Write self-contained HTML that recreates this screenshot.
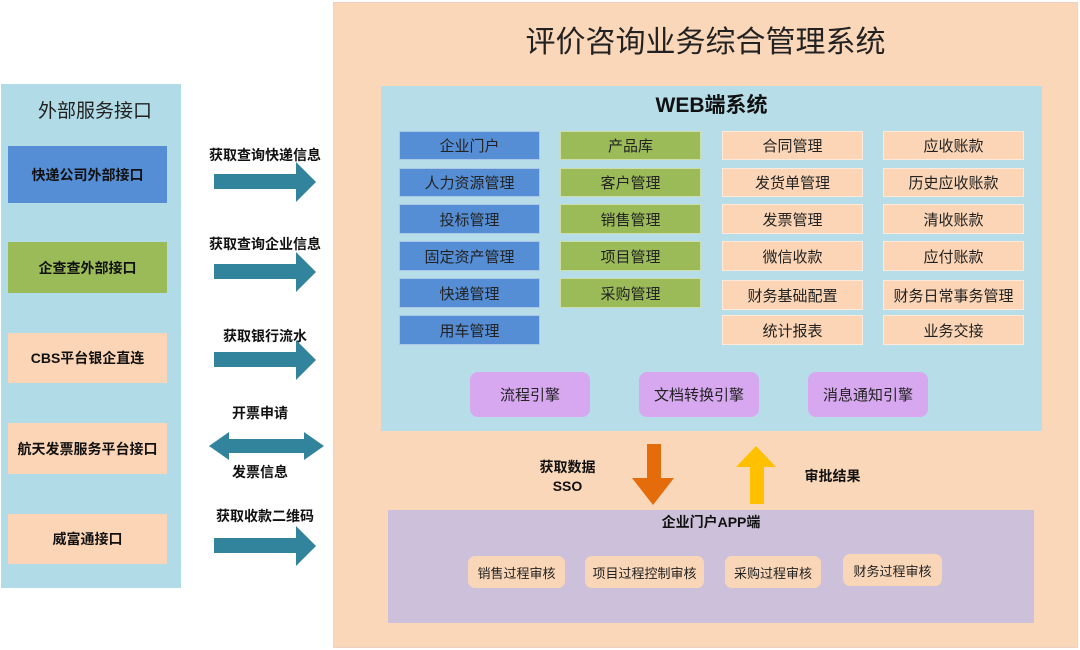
<!DOCTYPE html>
<html><head><meta charset="utf-8"><style>
*{margin:0;padding:0;box-sizing:border-box}
body{width:1080px;height:650px;background:#fff;position:relative;overflow:hidden;font-family:"Liberation Sans","Noto Sans CJK SC",sans-serif}
div{position:absolute}
.c{display:flex;align-items:center;justify-content:center;text-align:center;white-space:nowrap}
.lb{font-weight:bold;font-size:14px;color:#111}
.m{font-size:15px;color:#222;border:1px solid rgba(255,255,255,.5)}
.b{background:#558ed5}.g{background:#9bbb59}.p{background:#fbd5b5}
.e{background:#d7a8f0;border-radius:8px;font-size:15px;color:#222}
.a{background:#f9d6b8;border-radius:7px;font-size:13px;color:#222}
.t{font-weight:bold;font-size:14px;color:#111}
</style></head><body>
<div style="left:1px;top:84px;width:180px;height:504px;background:#b1dbe6"></div>
<div class="c" style="left:20px;top:96px;width:150px;height:26px;font-size:19px;color:#222">外部服务接口</div>
<div class="c lb" style="left:8px;top:146px;width:159px;height:57px;background:#558ed5">快递公司外部接口</div>
<div class="c lb" style="left:8px;top:242px;width:159px;height:51px;background:#9bbb59">企查查外部接口</div>
<div class="c lb" style="left:8px;top:333px;width:159px;height:50px;background:#fbd5b5">CBS平台银企直连</div>
<div class="c lb" style="left:8px;top:423px;width:159px;height:51px;background:#fbd5b5">航天发票服务平台接口</div>
<div class="c lb" style="left:8px;top:514px;width:159px;height:50px;background:#fbd5b5">威富通接口</div>
<svg style="position:absolute;left:0;top:0" width="340" height="650">
<g fill="#31849b">
<polygon points="214,174 296,174 296,162 316,182 296,202 296,189 214,189"/>
<polygon points="214,264 296,264 296,252 316,272 296,292 296,279 214,279"/>
<polygon points="214,352 296,352 296,340 316,360 296,380 296,367 214,367"/>
<polygon points="209,446 229,432 229,439 304,439 304,432 324,446 304,460 304,453 229,453 229,460"/>
<polygon points="214,538 296,538 296,526 316,546 296,566 296,553 214,553"/>
</g></svg>
<div class="c t" style="left:200px;top:145px;width:130px;height:20px">获取查询快递信息</div>
<div class="c t" style="left:200px;top:234px;width:130px;height:20px">获取查询企业信息</div>
<div class="c t" style="left:200px;top:326px;width:130px;height:20px">获取银行流水</div>
<div class="c t" style="left:200px;top:403px;width:120px;height:20px">开票申请</div>
<div class="c t" style="left:200px;top:462px;width:120px;height:20px">发票信息</div>
<div class="c t" style="left:200px;top:506px;width:130px;height:20px">获取收款二维码</div>

<div style="left:333px;top:2px;width:745px;height:646px;background:#fbd7b9;border:1px solid #f0d0c0"></div>
<div class="c" style="left:333px;top:18px;width:745px;height:42px;font-size:30px;color:#222">评价咨询业务综合管理系统</div>
<div style="left:381px;top:86px;width:661px;height:345px;background:#b7dde8"></div>
<div class="c" style="left:381px;top:90px;width:661px;height:28px;font-size:21px;font-weight:bold;color:#111">WEB端系统</div>

<div class="c m b" style="left:399px;top:131px;width:141px;height:29px">企业门户</div>
<div class="c m b" style="left:399px;top:168px;width:141px;height:29px">人力资源管理</div>
<div class="c m b" style="left:399px;top:204px;width:141px;height:30px">投标管理</div>
<div class="c m b" style="left:399px;top:241px;width:141px;height:30px">固定资产管理</div>
<div class="c m b" style="left:399px;top:278px;width:141px;height:30px">快递管理</div>
<div class="c m b" style="left:399px;top:315px;width:141px;height:30px">用车管理</div>

<div class="c m g" style="left:560px;top:131px;width:141px;height:29px">产品库</div>
<div class="c m g" style="left:560px;top:168px;width:141px;height:29px">客户管理</div>
<div class="c m g" style="left:560px;top:204px;width:141px;height:30px">销售管理</div>
<div class="c m g" style="left:560px;top:241px;width:141px;height:30px">项目管理</div>
<div class="c m g" style="left:560px;top:278px;width:141px;height:30px">采购管理</div>

<div class="c m p" style="left:722px;top:131px;width:141px;height:29px">合同管理</div>
<div class="c m p" style="left:722px;top:168px;width:141px;height:29px">发货单管理</div>
<div class="c m p" style="left:722px;top:204px;width:141px;height:30px">发票管理</div>
<div class="c m p" style="left:722px;top:241px;width:141px;height:30px">微信收款</div>
<div class="c m p" style="left:722px;top:280px;width:141px;height:30px">财务基础配置</div>
<div class="c m p" style="left:722px;top:315px;width:141px;height:30px">统计报表</div>

<div class="c m p" style="left:883px;top:131px;width:141px;height:29px">应收账款</div>
<div class="c m p" style="left:883px;top:168px;width:141px;height:29px">历史应收账款</div>
<div class="c m p" style="left:883px;top:204px;width:141px;height:30px">清收账款</div>
<div class="c m p" style="left:883px;top:241px;width:141px;height:30px">应付账款</div>
<div class="c m p" style="left:883px;top:280px;width:141px;height:30px">财务日常事务管理</div>
<div class="c m p" style="left:883px;top:315px;width:141px;height:30px">业务交接</div>

<div class="c e" style="left:470px;top:372px;width:120px;height:45px">流程引擎</div>
<div class="c e" style="left:639px;top:372px;width:120px;height:45px">文档转换引擎</div>
<div class="c e" style="left:808px;top:372px;width:120px;height:45px">消息通知引擎</div>

<svg style="position:absolute;left:600px;top:430px" width="200" height="90">
<polygon fill="#e46c0a" points="47,14 61,14 61,48 74,48 53,75 32,48 47,48"/>
<polygon fill="#ffc000" points="150,74 164,74 164,37 176,37 156,16 136,37 150,37"/>
</svg>
<div class="c t" style="left:530px;top:458px;width:75px;height:18px">获取数据</div>
<div class="c t" style="left:530px;top:477px;width:75px;height:18px">SSO</div>
<div class="c t" style="left:795px;top:466px;width:75px;height:20px">审批结果</div>

<div style="left:388px;top:510px;width:646px;height:113px;background:#ccc0da"></div>
<div class="c t" style="left:388px;top:512px;width:646px;height:20px">企业门户APP端</div>
<div class="c a" style="left:468px;top:556px;width:97px;height:32px">销售过程审核</div>
<div class="c a" style="left:585px;top:556px;width:119px;height:32px">项目过程控制审核</div>
<div class="c a" style="left:725px;top:556px;width:96px;height:32px">采购过程审核</div>
<div class="c a" style="left:843px;top:554px;width:99px;height:32px">财务过程审核</div>
</body></html>
